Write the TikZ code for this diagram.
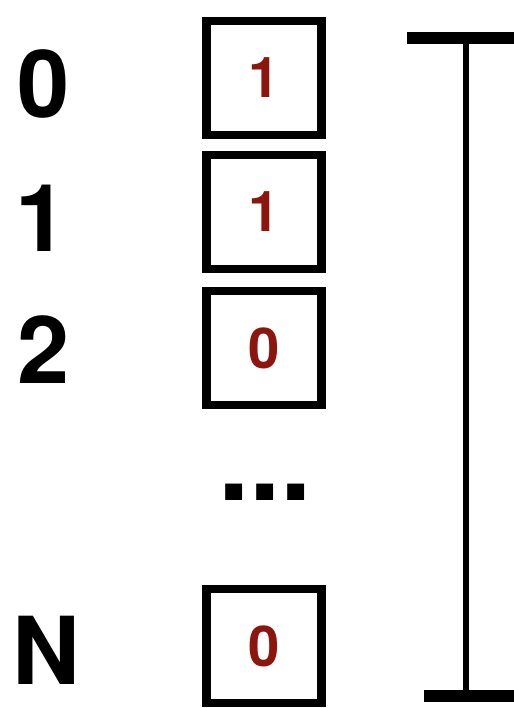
\documentclass[tikz,border=0pt]{standalone}
\usepackage{fontspec}
\setmainfont{TeX Gyre Heros}
\usetikzlibrary{positioning}
\definecolor{bitred}{RGB}{140, 22, 14}

\begin{document}
\begin{tikzpicture}[x=0.03cm, y=-0.03cm, line cap=butt,
    index/.style={font=\bfseries\fontsize{80}{80}\selectfont},
    cell/.style={draw, line width=7pt, minimum width=3.45cm, minimum height=3.4cm, inner sep=0pt,
        font=\bfseries\fontsize{48}{48}\selectfont, text=bitred}]
    \useasboundingbox (0,0) rectangle (514,708);

    % index labels
    \node[index] (idx0) at (44,84) {0};
    \node[index] (idx1) at (42,218) {1};
    \node[index] (idx2) at (44,350) {2};
    \node[index] (idxN) at (46,650) {N};

    % memory cells
    \node[cell] (cell0) at (264,78) {1};
    \node[cell] (cell1) at (264,212) {1};
    \node[cell] (cell2) at (264,348) {0};
    \node[cell] (cellN) at (264,646) {0};

    \node[font=\bfseries\fontsize{96}{96}\selectfont] (dots) at (265,492) {...};

    % size bracket
    \coordinate (top) at (466,38);
    \coordinate (bot) at (466,696);
    \draw[line width=4.5pt] (top) -- (bot);
    \draw[line width=10pt] ([xshift=-50]top) -- ([xshift=46]top);
    \draw[line width=10pt] ([xshift=-36]bot) -- ([xshift=46]bot);
\end{tikzpicture}
\end{document}
